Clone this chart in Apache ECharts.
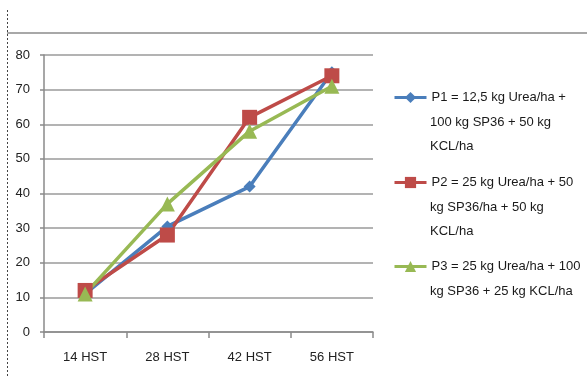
<!DOCTYPE html>
<html>
<head>
<meta charset="utf-8">
<script src="https://cdn.jsdelivr.net/npm/echarts@6/dist/echarts.min.js"></script>
<style>
  html, body { margin: 0; padding: 0; background: #fff; }
  #chart { width: 587px; height: 376px; }
</style>
</head>
<body>
<div id="chart"></div>
<script>
var categories = ['14 HST', '28 HST', '42 HST', '56 HST'];
var seriesNames = ['P1', 'P2', 'P3'];
var legendLines = [
    ['P1 = 12,5 kg Urea/ha +', '100 kg SP36 + 50 kg', 'KCL/ha'],
    ['P2 = 25 kg Urea/ha + 50', 'kg SP36/ha + 50 kg', 'KCL/ha'],
    ['P3 = 25 kg Urea/ha + 100', 'kg SP36 + 25 kg KCL/ha']
];
var p1Values = [11, 30.5, 42, 75];
var p2Values = [12, 28, 62, 74];
var p3Values = [11, 37, 58, 71];
var yTicks = { min: 0, max: 80, interval: 10 };

var font = '"Liberation Sans", Arial, sans-serif';
var colors = ['#4A7EBB', '#BE4B48', '#98B954'];
var symbols = ['diamond', 'rect', 'triangle'];
var symbolSizes = [12, 15, 15];
var values = [p1Values, p2Values, p3Values];
var iconY = [98, 183, 267];
var lineH = 24;
var legendX = 393;
var textX = legendX + 32 + 5;

var chart = echarts.init(document.getElementById('chart'));

// one legend per series showing the first line; the rest of each label is graphic text below it
var legends = seriesNames.map(function (name, i) {
    return {
        orient: 'vertical',
        left: legendX,
        top: iconY[i] - 7,
        padding: 0,
        itemWidth: 32,
        itemHeight: 14,
        data: [name],
        lineStyle: { width: 3 },
        formatter: function () { return legendLines[i][0]; },
        textStyle: { fontFamily: font, fontSize: 13, color: '#1a1a1a' }
    };
});

var extraText = [];
legendLines.forEach(function (lines, i) {
    lines.slice(1).forEach(function (t, k) {
        extraText.push({
            type: 'text',
            x: textX,
            y: iconY[i] + (k + 1) * lineH,
            style: {
                text: t,
                fontFamily: font,
                fontSize: 13,
                fill: '#1a1a1a',
                verticalAlign: 'middle'
            }
        });
    });
});

var option = {
    animation: false,
    backgroundColor: '#fff',
    color: colors,
    legend: legends,
    grid: { left: 44, right: 214, top: 55, bottom: 44, containLabel: false },
    xAxis: {
        type: 'category',
        data: categories,
        boundaryGap: true,
        axisLine: { lineStyle: { color: '#8a8a8a', width: 1.5 } },
        axisTick: { show: true, length: 6, lineStyle: { color: '#8a8a8a', width: 1.5 } },
        axisLabel: { margin: 19, fontFamily: font, fontSize: 13, color: '#222' }
    },
    yAxis: {
        type: 'value',
        min: yTicks.min,
        max: yTicks.max,
        interval: yTicks.interval,
        axisLine: { show: true, lineStyle: { color: '#8a8a8a', width: 1.5 } },
        axisTick: { show: true, length: 4, lineStyle: { color: '#8a8a8a', width: 1.5 } },
        axisLabel: { margin: 14, fontFamily: font, fontSize: 13, color: '#222' },
        splitLine: { lineStyle: { color: '#9a9a9a', width: 1.5 } }
    },
    series: seriesNames.map(function (name, i) {
        return {
            name: name,
            type: 'line',
            data: values[i],
            symbol: symbols[i],
            symbolSize: symbolSizes[i],
            lineStyle: { width: 3.5, color: colors[i] },
            itemStyle: { color: colors[i] }
        };
    }),
    graphic: [
        {
            type: 'line',
            shape: { x1: 7.5, y1: 10, x2: 7.5, y2: 376 },
            style: { stroke: '#444', lineWidth: 1, lineDash: [2, 2] }
        },
        {
            type: 'line',
            shape: { x1: 7, y1: 33, x2: 587, y2: 33 },
            style: { stroke: '#a8a8a8', lineWidth: 2 }
        }
    ].concat(extraText)
};

chart.setOption(option);
</script>
</body>
</html>
